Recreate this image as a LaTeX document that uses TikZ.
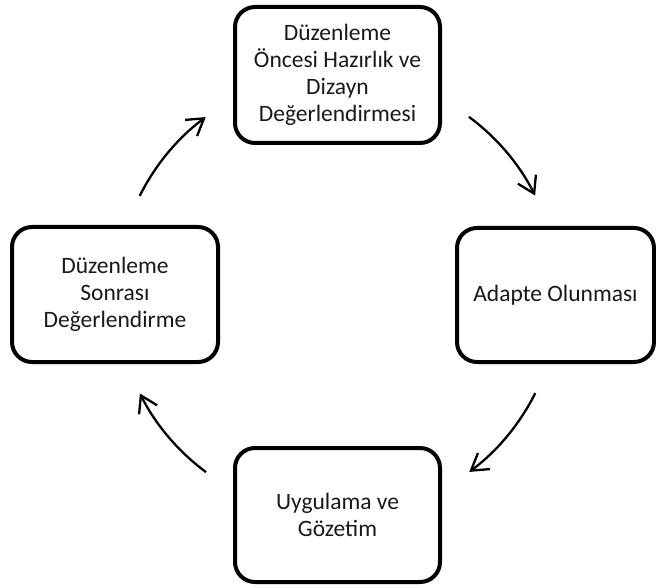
\documentclass[tikz,border=0pt]{standalone}
\usepackage{fontspec}
\setmainfont{Carlito}
\usetikzlibrary{arrows.meta}
\begin{document}
\begin{tikzpicture}[x=1pt,y=-1pt,
  stage/.style={draw=black, line width=4pt, rounded corners=20pt,
    rectangle, align=center, inner sep=4pt,
    font=\fontsize{23.5}{26.8}\selectfont, text=black!90},
  cyclearrow/.style={line width=2.3pt,
    -{Straight Barb[angle=64:19pt, line width=2.3pt]}}]
  \useasboundingbox (0,0) rectangle (656,588);
  % the four stages of the cycle
  \node[stage, minimum width=205pt, minimum height=136pt]
    (prep) at (337.5,75) {Düzenleme\\Öncesi Hazırlık ve\\Dizayn\\Değerlendirmesi};
  \node[stage, minimum width=197pt, minimum height=134pt]
    (adapt) at (555.5,295) {Adapte Olunması};
  \node[stage, minimum width=205pt, minimum height=134pt]
    (apply) at (337.5,515) {Uygulama ve\\Gözetim};
  \node[stage, minimum width=206pt, minimum height=135pt]
    (post) at (115,294.5) {Düzenleme\\Sonrası\\Değerlendirme};
  % centre of the circle that the arrows follow
  \coordinate (ctr) at (337.5,294.5);
  \path (ctr) ++(53.5:221pt) coordinate (s1);
  \path (ctr) ++(-26.5:221pt) coordinate (s2);
  \path (ctr) ++(-126.5:221pt) coordinate (s3);
  \path (ctr) ++(153.5:221pt) coordinate (s4);
  \draw[cyclearrow] (s1) arc[start angle=53.5, end angle=26.6, radius=221pt];
  \draw[cyclearrow] (s2) arc[start angle=-26.5, end angle=-53.4, radius=221pt];
  \draw[cyclearrow] (s3) arc[start angle=-126.5, end angle=-153.4, radius=221pt];
  \draw[cyclearrow] (s4) arc[start angle=153.5, end angle=126.6, radius=221pt];
\end{tikzpicture}
\end{document}
